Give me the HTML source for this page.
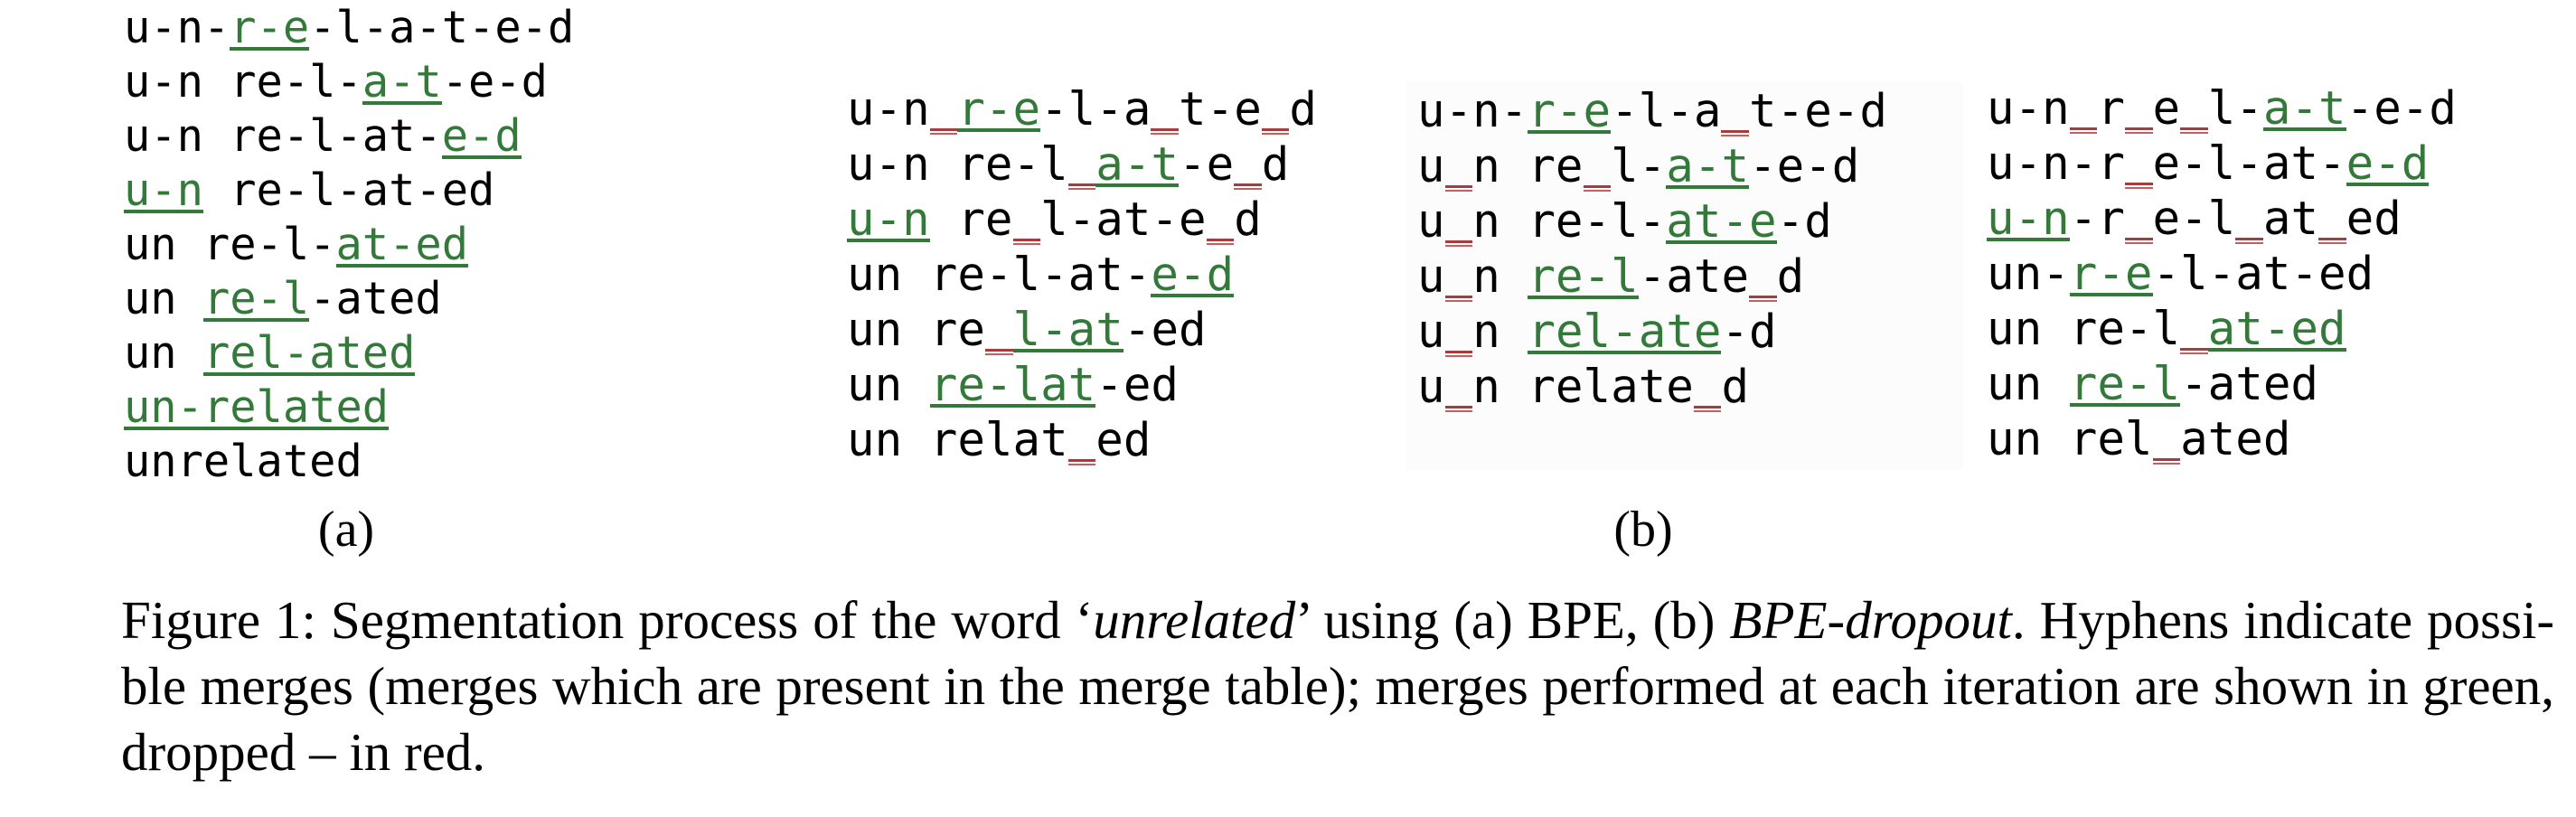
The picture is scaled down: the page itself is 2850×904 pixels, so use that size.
<!DOCTYPE html>
<html><head><meta charset="utf-8"><style>
body{margin:0;width:2850px;height:904px;background:#fff;position:relative;overflow:hidden}
.m{position:absolute;font-family:"DejaVu Sans Mono",monospace;white-space:pre;color:#000}
.a{font-size:48.7px;line-height:60px}
.b{font-size:50.8px;line-height:61px}
.g,.r{position:relative;color:#33793a}
.r{color:#000}
.g::after{content:"";position:absolute;left:0;right:0;top:calc(0.93em + 4px);height:4px;background:#33793a}
.r::before{content:"";position:absolute;left:0;right:0;top:calc(0.93em + 4px);height:3px;background:#a83c3c}
.r::after{content:"";position:absolute;left:0;right:0;top:calc(0.93em + 9px);height:2px;background:#c06060}
.s{position:absolute;font-family:"Liberation Serif",serif;font-size:56px;line-height:73px;white-space:nowrap;color:#000}
.cap{left:134px;width:2692px;text-align:justify;text-align-last:justify;font-size:59px}
</style></head><body>
<div style="position:absolute;left:1555px;top:90px;width:617px;height:430px;background:#fcfcfc"></div>

<div class="m a" style="left:137px;top:1px">u-n-<span class="g">r-e</span>-l-a-t-e-d
u-n re-l-<span class="g">a-t</span>-e-d
u-n re-l-at-<span class="g">e-d</span>
<span class="g">u-n</span> re-l-at-ed
un re-l-<span class="g">at-ed</span>
un <span class="g">re-l</span>-ated
un <span class="g">rel-ated</span>
<span class="g">un-related</span>
unrelated</div>

<div class="m b" style="left:937px;top:90px">u-n<span class="r"> </span><span class="g">r-e</span>-l-a<span class="r"> </span>t-e<span class="r"> </span>d
u-n re-l<span class="r"> </span><span class="g">a-t</span>-e<span class="r"> </span>d
<span class="g">u-n</span> re<span class="r"> </span>l-at-e<span class="r"> </span>d
un re-l-at-<span class="g">e-d</span>
un re<span class="r"> </span><span class="g">l-at</span>-ed
un <span class="g">re-lat</span>-ed
un relat<span class="r"> </span>ed</div>

<div class="m b" style="left:1568px;top:92px">u-n-<span class="g">r-e</span>-l-a<span class="r"> </span>t-e-d
u<span class="r"> </span>n re<span class="r"> </span>l-<span class="g">a-t</span>-e-d
u<span class="r"> </span>n re-l-<span class="g">at-e</span>-d
u<span class="r"> </span>n <span class="g">re-l</span>-ate<span class="r"> </span>d
u<span class="r"> </span>n <span class="g">rel-ate</span>-d
u<span class="r"> </span>n relate<span class="r"> </span>d</div>

<div class="m b" style="left:2198px;top:89px">u-n<span class="r"> </span>r<span class="r"> </span>e<span class="r"> </span>l-<span class="g">a-t</span>-e-d
u-n-r<span class="r"> </span>e-l-at-<span class="g">e-d</span>
<span class="g">u-n</span>-r<span class="r"> </span>e-l<span class="r"> </span>at<span class="r"> </span>ed
un-<span class="g">r-e</span>-l-at-ed
un re-l<span class="r"> </span><span class="g">at-ed</span>
un <span class="g">re-l</span>-ated
un rel<span class="r"> </span>ated</div>

<div class="s" style="left:283px;width:200px;text-align:center;top:550px">(a)</div>
<div class="s" style="left:1718px;width:200px;text-align:center;top:550px">(b)</div>

<div class="s cap" style="top:650px">Figure 1: Segmentation process of the word ‘<i>unrelated</i>’ using (a) BPE, (b) <i>BPE-dropout</i>. Hyphens indicate possi-</div>
<div class="s cap" style="top:723px">ble merges (merges which are present in the merge table); merges performed at each iteration are shown in green,</div>
<div class="s" style="left:134px;top:796px;font-size:59px">dropped – in red.</div>
</body></html>
